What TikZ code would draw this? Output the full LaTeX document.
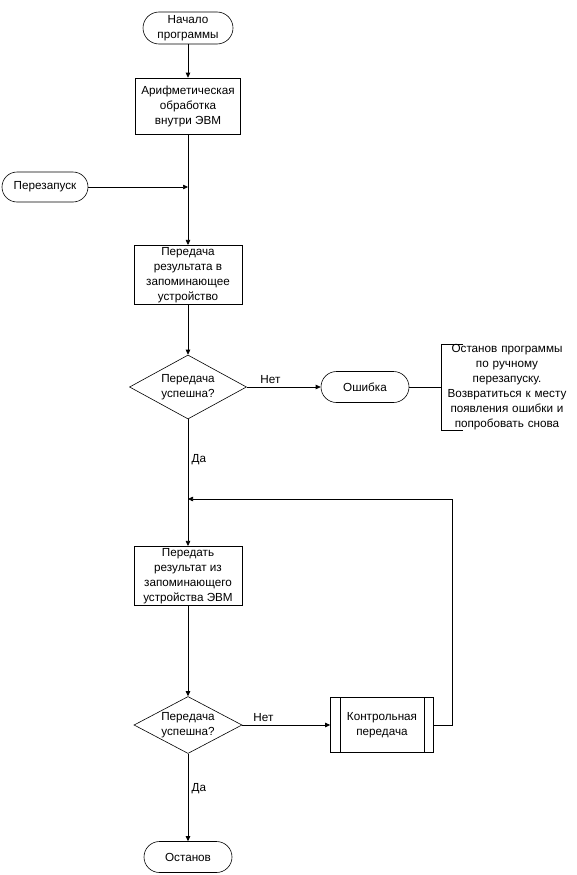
\documentclass[tikz,border=0pt]{standalone}
\usepackage{fontspec}
\setmainfont{Liberation Sans}
\usepackage{tikz}
\usetikzlibrary{arrows.meta,positioning,shapes.geometric,calc}

\begin{document}
\begin{tikzpicture}[x=1pt, y=-1pt,
    font=\fontsize{11.7}{15}\selectfont,
    line width=0.6pt,
    >={Triangle[length=5pt,width=4.5pt]},
    term/.style={draw, rounded corners=15.5pt, minimum width=88pt,
                 minimum height=31pt, align=center, inner sep=2pt},
    proc/.style={draw, minimum width=108pt, minimum height=58pt,
                 align=center, inner sep=2pt},
    cond/.style={draw, diamond, aspect=1.85, inner sep=0pt, align=center}]
  \useasboundingbox (0,0) rectangle (576,875);

  % main column
  \node[term, minimum width=90pt, minimum height=32pt, rounded corners=16pt] (start) at (188,28) {Начало\\программы};
  \node[proc, minimum width=105pt, minimum height=56pt] (arith) at (188,106) {Арифметическая\\обработка\\внутри ЭВМ};
  \node[term, minimum width=86pt, minimum height=30pt, rounded corners=15pt] (restart) at (45,187) {Перезапуск};
  \coordinate (merge1) at (188,187);
  \node[proc] (store) at (188,275) {Передача\\результата в\\запоминающее\\устройство};
  \node[cond, minimum width=117pt, minimum height=64pt] (check1) at (188,387) {Передача\\успешна?};
  \node[term] (error) at (365,387) {Ошибка};
  \node[align=center, inner sep=0pt, text width=130pt] (note) at (507,387)
    {Останов программы\\по ручному\\перезапуску.\\Возвратиться к месту\\появления ошибки и\\попробовать снова};
  \coordinate (merge2) at (188,499);
  \node[proc] (load) at (188,576) {Передать\\результат из\\запоминающего\\устройства ЭВМ};
  \node[cond, minimum width=108pt, minimum height=57pt] (check2) at (188,725) {Передача\\успешна?};
  \node[proc, minimum width=103pt, minimum height=55pt] (control) at (382,725) {Контрольная\\передача};
  \node[term] (stop) at (188,857) {Останов};

  % side bars of the predefined process
  \draw ([xshift=10pt]control.north west) -- ([xshift=10pt]control.south west);
  \draw ([xshift=-10pt]control.north east) -- ([xshift=-10pt]control.south east);

  % comment bracket
  \draw ([xshift=21pt]note.north west) -- (note.north west) -- (note.south west) -- ([xshift=21pt]note.south west);

  % connectors
  \draw[->] (start) -- (arith);
  \draw (arith) -- (merge1);
  \draw[->] (restart) -- (merge1);
  \draw[->] (merge1) -- (store);
  \draw[->] (store) -- (check1);
  \draw[->] (check1) -- node[above, pos=0.32] {Нет} (error);
  \draw (error) -- (note.west);
  \draw (check1) -- node[right, pos=0.5] {Да} (merge2);
  \draw[->] (merge2) -- (load);
  \draw[->] (load) -- (check2);
  \draw[->] (check2) -- node[above, pos=0.24] {Нет} (control);
  \draw[->] (control.east) -- ++(18,0) |- (merge2);
  \draw[->] (check2) -- node[right, pos=0.4] {Да} (stop);
\end{tikzpicture}
\end{document}
